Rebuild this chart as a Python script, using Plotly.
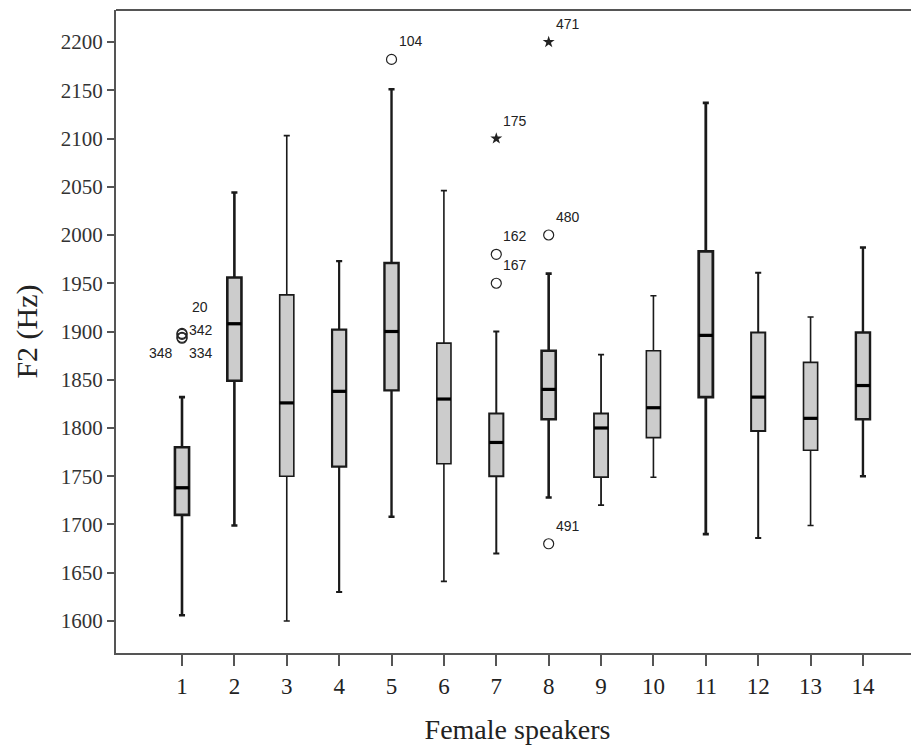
import plotly.graph_objects as go

# F2 per female speaker
speakers = list(range(1, 15))
lower = [1606, 1699, 1600, 1630, 1708, 1641, 1670, 1728, 1720, 1749, 1690, 1686, 1699, 1750]
q1 = [1710, 1849, 1750, 1760, 1839, 1763, 1750, 1809, 1749, 1790, 1832, 1797, 1777, 1809]
median = [1738, 1908, 1826, 1838, 1900, 1830, 1785, 1840, 1800, 1821, 1896, 1832, 1810, 1844]
q3 = [1780, 1956, 1938, 1902, 1971, 1888, 1815, 1880, 1815, 1880, 1983, 1899, 1868, 1899]
upper = [1832, 2044, 2103, 1973, 2151, 2046, 1900, 1960, 1876, 1937, 2137, 1961, 1915, 1987]

# outliers (circles) and extremes (stars) with their case numbers
out_x = [1, 1, 1, 1, 5, 7, 7, 8, 8]
out_y = [1898, 1897, 1894, 1893, 2182, 1980, 1950, 2000, 1680]
out_id = ["20", "342", "348", "334", "104", "162", "167", "480", "491"]
ext_x = [7, 8]
ext_y = [2100, 2200]
ext_id = ["175", "471"]

y_ticks = list(range(1600, 2201, 50))

# whisker line widths (the source renders some heavier than others)
line_w = [2.6, 2.6, 1.6, 2.2, 2.4, 1.6, 2.0, 2.6, 1.8, 1.6, 2.8, 2.0, 1.6, 2.4]
box_w = 0.27

fig = go.Figure()

for i, s in enumerate(speakers):
    fig.add_trace(go.Box(
        x=[s], q1=[q1[i]], median=[median[i]], q3=[q3[i]],
        lowerfence=[lower[i]], upperfence=[upper[i]],
        width=box_w, whiskerwidth=0.43,
        fillcolor="#cccccc",
        line=dict(color="#1a1a1a", width=line_w[i]),
        boxpoints=False, hoverinfo="skip", showlegend=False
    ))

# heavier median bars on top of the boxes
mx, my = [], []
for s, m in zip(speakers, median):
    mx += [s - box_w / 2, s + box_w / 2, None]
    my += [m, m, None]
fig.add_trace(go.Scatter(
    x=mx, y=my, mode="lines",
    line=dict(color="black", width=3.2),
    hoverinfo="skip", showlegend=False
))

fig.add_trace(go.Scatter(
    x=out_x, y=out_y, mode="markers",
    marker=dict(symbol="circle-open", size=10, color="#222", line=dict(width=1.2)),
    hoverinfo="skip", showlegend=False
))
fig.add_trace(go.Scatter(
    x=ext_x, y=ext_y, mode="markers",
    marker=dict(symbol="star", size=9, color="#222"),
    hoverinfo="skip", showlegend=False
))

# case-number labels
label_font = dict(family="Liberation Sans, Arial, sans-serif", size=14, color="#222")
offsets = {
    "20": ("left", 8, 26),
    "342": ("left", 5, 4),
    "348": ("right", -7, -16),
    "334": ("left", 5, -15),
}
for x, y, t in list(zip(out_x, out_y, out_id)) + list(zip(ext_x, ext_y, ext_id)):
    anchor, dx, dy = offsets.get(t, ("left", 5, 18))
    fig.add_annotation(
        x=x, y=y, text=t, showarrow=False,
        xanchor=anchor, yanchor="middle", xshift=dx, yshift=dy,
        font=label_font
    )

# top frame line (no right-hand border in the original)
fig.add_shape(type="line", xref="paper", yref="paper", x0=0, x1=1, y0=1, y1=1,
              line=dict(color="#555", width=2))

# the page body adds an 8px margin, so the figure is offset by that much
serif = "Liberation Serif, Times New Roman, serif"
fig.update_layout(
    width=911, height=737,
    margin=dict(l=108, r=0, t=2, b=92),
    plot_bgcolor="white", paper_bgcolor="white",
    font=dict(family=serif, color="#222"),
    xaxis=dict(
        range=[-0.26, 15.07], tickvals=speakers, ticktext=[str(s) for s in speakers],
        showgrid=False, zeroline=False,
        showline=True, mirror=False, linecolor="#555", linewidth=2,
        ticks="outside", ticklen=11, tickwidth=2, tickcolor="#555",
        tickfont=dict(family=serif, size=23, color="#222"),
        title=dict(text="Female speakers", font=dict(family=serif, size=28, color="#222"), standoff=24),
        automargin=False
    ),
    yaxis=dict(
        range=[1566.8, 2233.2], tickvals=y_ticks,
        showgrid=False, zeroline=False,
        showline=True, mirror=False, linecolor="#555", linewidth=2,
        ticks="outside", ticklen=7, tickwidth=2, tickcolor="#555",
        tickfont=dict(family=serif, size=21, color="#333"),
        title=dict(text="F2 (Hz)", font=dict(family=serif, size=30, color="#222"), standoff=14),
        automargin=False
    ),
)

fig.write_html("out.html")
